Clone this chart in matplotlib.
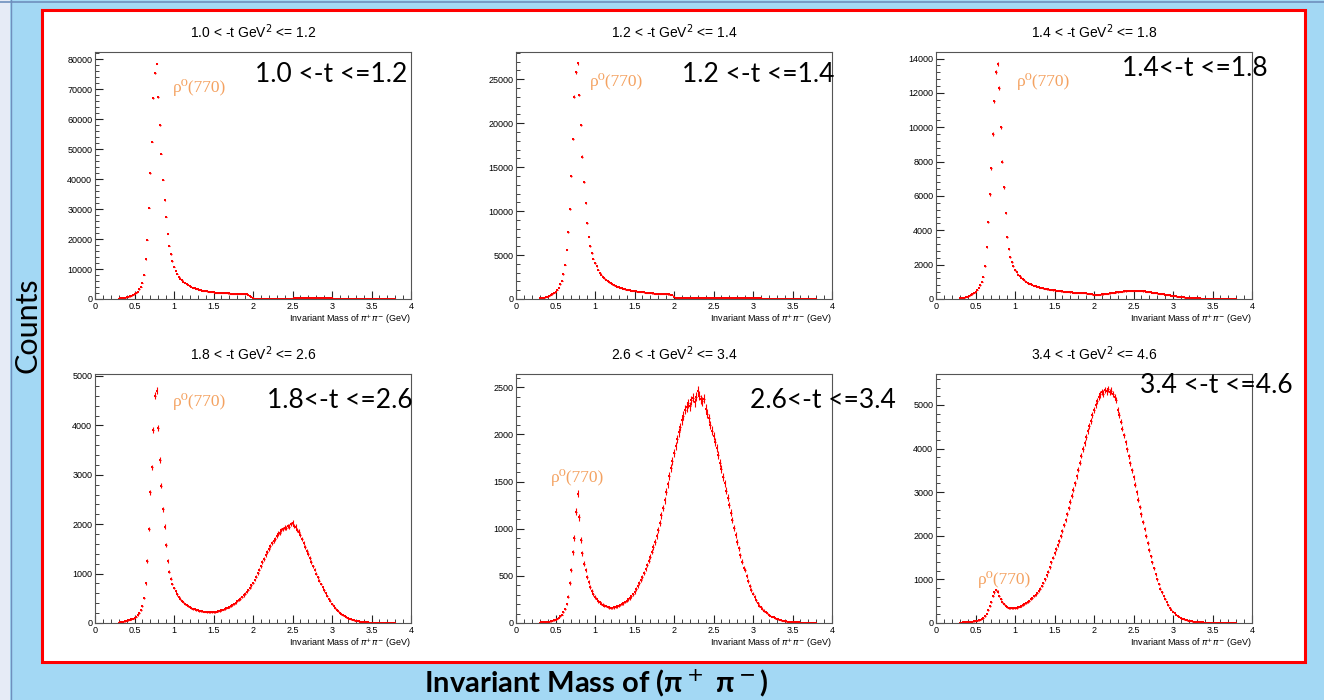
import numpy as np
import matplotlib
matplotlib.use("Agg")
import matplotlib.pyplot as plt
from matplotlib.patches import Rectangle
from matplotlib.ticker import MultipleLocator, FuncFormatter

plt.rcParams['font.family'] = ['Liberation Sans', 'DejaVu Sans']

# bin centres of the pi+pi- invariant mass histograms (GeV), 0.02 GeV wide bins
mass = np.round(np.arange(0.30, 3.801, 0.02), 2)
bin_half = 0.01

titles = ["1.0 < -t GeV$^2$ <= 1.2", "1.2 < -t GeV$^2$ <= 1.4", "1.4 < -t GeV$^2$ <= 1.8",
          "1.8 < -t GeV$^2$ <= 2.6", "2.6 < -t GeV$^2$ <= 3.4", "3.4 < -t GeV$^2$ <= 4.6"]
big_labels = ["1.0 <-t <=1.2", "1.2 <-t <=1.4", "1.4<-t <=1.8",
              "1.8<-t <=2.6", "2.6<-t <=3.4", "3.4 <-t <=4.6"]

# counts per bin
counts_10_12 = [
    150, 200, 260, 330, 420, 530, 680, 850, 1050, 1300,
    1600, 2000, 2500, 3200, 4100, 5400, 8100, 13200, 19800, 30500,
    42000, 52500, 67000, 75500, 78600, 67500, 58000, 48500, 39800, 33000,
    27500, 21800, 17800, 14900, 12600, 10800, 9400, 8300, 7500, 6800,
    6200, 5700, 5300, 4900, 4600, 4300, 4050, 3800, 3570, 3370,
    3200, 3050, 2920, 2800, 2700, 2600, 2510, 2430, 2350, 2280,
    2220, 2160, 2110, 2060, 2020, 1980, 1940, 1910, 1880, 1860,
    1840, 1820, 1800, 1780, 1760, 1740, 1720, 1700, 1680, 1650,
    1600, 1520, 1350, 1050, 650, 320, 150, 100, 80, 70,
    60, 60, 55, 55, 50, 50, 50, 50, 50, 50,
    50, 50, 50, 50, 50, 50, 50, 50, 50, 60,
    120, 180, 200, 210, 220, 220, 220, 220, 220, 220,
    220, 220, 220, 220, 220, 220, 220, 220, 220, 220,
    220, 220, 220, 220, 220, 210, 150, 60, 30, 25,
    20, 20, 18, 18, 15, 15, 15, 12, 12, 10,
    10, 10, 8, 8, 8, 6, 6, 5, 5, 5,
    4, 4, 3, 3, 3, 2, 2, 2, 2, 2,
    1, 1, 1, 1, 1, 0]

counts_12_14 = [
    60, 90, 120, 160, 210, 270, 340, 430, 540, 680,
    850, 1050, 1300, 1650, 2100, 2800, 3900, 5600, 7600, 10200,
    14000, 18200, 23000, 25800, 26800, 23200, 19800, 16200, 13300, 10900,
    8600, 7100, 6000, 5200, 4600, 4100, 3700, 3300, 3000, 2750,
    2550, 2350, 2180, 2030, 1900, 1780, 1670, 1570, 1480, 1400,
    1330, 1270, 1210, 1160, 1110, 1070, 1030, 990, 950, 920,
    890, 860, 840, 810, 790, 770, 750, 730, 710, 690,
    670, 650, 630, 620, 600, 590, 580, 570, 560, 550,
    540, 530, 520, 510, 490, 200, 120, 110, 110, 110,
    110, 110, 108, 108, 105, 105, 105, 102, 100, 100,
    100, 100, 98, 98, 95, 95, 95, 92, 92, 90,
    90, 90, 88, 88, 85, 85, 85, 82, 82, 80,
    80, 78, 78, 75, 75, 75, 72, 72, 70, 70,
    70, 68, 68, 65, 65, 62, 62, 60, 60, 58,
    58, 55, 55, 52, 50, 48, 45, 40, 30, 20,
    15, 12, 10, 10, 8, 8, 6, 6, 5, 5,
    4, 4, 3, 3, 3, 2, 2, 2, 2, 2,
    1, 1, 1, 1, 1, 0]

counts_14_18 = [
    30, 45, 60, 80, 105, 135, 175, 220, 280, 350,
    430, 530, 650, 800, 1000, 1300, 1900, 3000, 4500, 6100,
    7600, 9600, 11500, 13200, 13700, 12300, 10000, 8000, 6500, 5000,
    3600, 2900, 2450, 2150, 1900, 1700, 1550, 1420, 1320, 1230,
    1150, 1080, 1010, 950, 900, 860, 820, 785, 750, 720,
    690, 665, 640, 615, 595, 575, 555, 540, 525, 510,
    495, 480, 470, 460, 450, 440, 430, 420, 410, 400,
    390, 380, 375, 370, 365, 360, 355, 350, 345, 340,
    330, 320, 305, 285, 265, 245, 230, 235, 245, 255,
    265, 275, 290, 300, 315, 330, 345, 355, 370, 385,
    395, 410, 420, 430, 440, 450, 460, 465, 470, 475,
    480, 480, 480, 475, 470, 460, 450, 440, 425, 410,
    400, 390, 375, 365, 350, 335, 320, 305, 290, 275,
    255, 240, 225, 210, 195, 180, 165, 150, 135, 125,
    115, 105, 95, 85, 78, 70, 62, 55, 50, 45,
    40, 35, 30, 26, 22, 19, 16, 14, 12, 10,
    8, 7, 6, 5, 4, 4, 3, 3, 2, 2,
    2, 1, 1, 1, 1, 0]

counts_18_26 = [
    10, 15, 20, 25, 35, 45, 55, 65, 75, 90,
    105, 130, 160, 200, 260, 350, 500, 800, 1250, 1900,
    2650, 3150, 3900, 4600, 4700, 3950, 3300, 2780, 2300, 1950,
    1580, 1260, 1040, 900, 790, 710, 640, 580, 530, 490,
    450, 420, 390, 365, 340, 320, 300, 285, 275, 265,
    255, 248, 240, 236, 232, 228, 225, 222, 220, 218,
    222, 226, 232, 240, 248, 258, 270, 282, 296, 312,
    328, 346, 366, 388, 412, 438, 465, 495, 528, 560,
    595, 630, 670, 715, 760, 810, 870, 940, 1010, 1080,
    1150, 1230, 1300, 1370, 1430, 1500, 1560, 1610, 1660, 1700,
    1760, 1810, 1830, 1880, 1900, 1930, 1920, 1960, 1950, 2000,
    2030, 1960, 1950, 1880, 1850, 1780, 1700, 1620, 1540, 1460,
    1390, 1310, 1230, 1150, 1080, 1000, 930, 860, 790, 720,
    660, 600, 540, 490, 440, 390, 340, 300, 265, 235,
    205, 180, 155, 135, 118, 100, 86, 74, 63, 53,
    45, 38, 32, 27, 22, 18, 15, 13, 11, 9,
    8, 7, 6, 5, 4, 4, 3, 3, 2, 2,
    2, 1, 1, 1, 1, 0]

counts_26_34 = [
    5, 6, 8, 9, 10, 12, 15, 18, 22, 28,
    35, 45, 58, 72, 90, 115, 150, 200, 280, 420,
    560, 750, 900, 1180, 1370, 1120, 880, 740, 630, 560,
    490, 430, 380, 340, 305, 275, 250, 232, 218, 205,
    195, 185, 178, 170, 165, 160, 162, 165, 170, 176,
    182, 190, 200, 210, 222, 235, 250, 265, 282, 305,
    330, 358, 390, 420, 455, 490, 530, 570, 615, 660,
    705, 755, 805, 860, 920, 985, 1060, 1140, 1220, 1300,
    1390, 1470, 1560, 1640, 1720, 1800, 1880, 1950, 2020, 2080,
    2150, 2200, 2260, 2290, 2330, 2300, 2360, 2390, 2340, 2400,
    2460, 2410, 2370, 2350, 2380, 2270, 2220, 2170, 2100, 2040,
    1980, 1920, 1860, 1780, 1700, 1630, 1550, 1480, 1400, 1330,
    1250, 1170, 1090, 1010, 930, 860, 790, 720, 650, 585,
    560, 500, 445, 395, 350, 310, 275, 240, 210, 185,
    170, 150, 132, 116, 102, 90, 78, 68, 59, 51,
    44, 38, 33, 28, 24, 20, 17, 15, 13, 11,
    10, 9, 8, 7, 6, 5, 4, 4, 3, 3,
    2, 2, 1, 1, 1, 0]

counts_34_46 = [
    8, 10, 12, 14, 17, 20, 23, 27, 32, 38,
    45, 55, 65, 80, 100, 125, 160, 210, 290, 380,
    480, 610, 700, 760, 720, 620, 540, 480, 430, 390,
    365, 350, 340, 335, 335, 340, 350, 360, 375, 390,
    410, 430, 460, 490, 515, 545, 580, 615, 650, 690,
    740, 790, 850, 920, 1000, 1090, 1180, 1280, 1390, 1500,
    1600, 1700, 1790, 1880, 1990, 2110, 2240, 2370, 2500, 2640,
    2780, 2920, 3060, 3200, 3360, 3520, 3680, 3840, 3990, 4130,
    4270, 4400, 4520, 4640, 4760, 4880, 4990, 5090, 5180, 5240,
    5300, 5260, 5340, 5310, 5360, 5290, 5330, 5250, 5180, 5110,
    4890, 4760, 4620, 4460, 4300, 4140, 3980, 3820, 3660, 3500,
    3340, 3170, 3000, 2830, 2660, 2490, 2320, 2150, 1990, 1830,
    1680, 1530, 1390, 1250, 1120, 1000, 890, 790, 700, 620,
    545, 475, 410, 355, 305, 260, 222, 190, 162, 138,
    118, 100, 85, 72, 61, 52, 44, 37, 31, 26,
    22, 19, 16, 14, 12, 10, 9, 8, 7, 6,
    5, 5, 4, 4, 3, 3, 3, 2, 2, 2,
    2, 1, 1, 1, 1, 0]

all_counts = [counts_10_12, counts_12_14, counts_14_18,
              counts_18_26, counts_26_34, counts_34_46]
y_max = [82440, 28100, 14380, 5040, 2640, 5710]
y_step = [10000, 5000, 2000, 1000, 500, 1000]

W, H = 1324, 700
fig = plt.figure(figsize=(W / 100, H / 100), dpi=100, facecolor='#a3d8f4')

# slide decorations behind the plots
fig.patches.append(Rectangle((0, 0), 10 / W, 1, transform=fig.transFigure,
                             facecolor='#e6ebf6', edgecolor='none', zorder=-2))
fig.add_artist(plt.Line2D([10.5 / W, 10.5 / W], [0, 1], color='#6f8fbd', lw=1, zorder=-1))
fig.add_artist(plt.Line2D([0, 1], [1 - 1.5 / H, 1 - 1.5 / H], color='#6f8fbd', lw=1.2, zorder=-1))
fig.patches.append(Rectangle((42 / W, 1 - 662 / H), (1305 - 42) / W, (662 - 10) / H,
                             transform=fig.transFigure, facecolor='white',
                             edgecolor='#ff0000', lw=2.2, zorder=-1))

lefts = [95, 516, 936]
tops = [52, 374]
heights = [247, 249]
rho_pos = [(173, 88), (590, 82), (1017, 82), (173, 401), (551, 478), (978, 579)]
big_pos = [(255, 75), (682, 75), (1122, 68), (267, 400), (750, 400), (1140, 385)]

for i in range(6):
    row, col = divmod(i, 3)
    x0 = lefts[col]
    y0 = tops[row] + heights[row]
    ax = fig.add_axes([x0 / W, 1 - y0 / H, 316 / W, heights[row] / H])
    counts = np.array(all_counts[i], dtype=float)
    # ROOT style: marker + bin-width bar + poisson error
    ax.errorbar(mass, counts, xerr=bin_half, yerr=np.sqrt(counts), fmt='s',
                markersize=1.5, markeredgewidth=0, color='#ff0000',
                ecolor='#ff0000', elinewidth=0.8, capsize=0)
    ax.set_xlim(0, 4)
    ax.set_ylim(0, y_max[i])
    ax.xaxis.set_major_locator(MultipleLocator(0.5))
    ax.xaxis.set_minor_locator(MultipleLocator(0.1))
    ax.yaxis.set_major_locator(MultipleLocator(y_step[i]))
    ax.yaxis.set_minor_locator(MultipleLocator(y_step[i] / 5))
    ax.xaxis.set_major_formatter(FuncFormatter(lambda v, _: f"{v:g}"))
    ax.yaxis.set_major_formatter(FuncFormatter(lambda v, _: f"{v:g}"))
    ax.tick_params(which='both', direction='in', labelsize=6.5, pad=2,
                   top=False, right=False, color='#222222')
    ax.tick_params(which='major', length=6)
    ax.tick_params(which='minor', length=3)
    for s in ax.spines.values():
        s.set_color('#555555')
        s.set_linewidth(0.8)
    ax.set_xlabel("Invariant Mass of $\\pi^{+}\\pi^{-}$ (GeV)", loc='right',
                  fontsize=6.5, labelpad=1)

    fig.text((x0 + 158) / W, 1 - (tops[row] - 20) / H, titles[i],
             ha='center', va='center', fontsize=10)
    rx, ry = rho_pos[i]
    fig.text(rx / W, 1 - ry / H, "ρ⁰(770)", ha='left', va='center', fontsize=12.5,
             color='#f4a261', family=['Liberation Serif', 'DejaVu Serif'])
    bx, by = big_pos[i]
    fig.text(bx / W, 1 - by / H, big_labels[i], ha='left', va='center',
             fontsize=19, color='black', family=['Lato', 'DejaVu Sans'])

fig.text(28 / W, 1 - 325 / H, "Counts", rotation=90, ha='center', va='center',
         fontsize=22, family=['Lato', 'DejaVu Sans'])
fig.text(596 / W, 1 - 683 / H, "Invariant Mass of (π$^+$ π$^-$)", ha='center',
         va='center', fontsize=21, fontweight='bold', family=['Lato', 'DejaVu Sans'])

fig.savefig("out.png", dpi=100, facecolor=fig.get_facecolor())
